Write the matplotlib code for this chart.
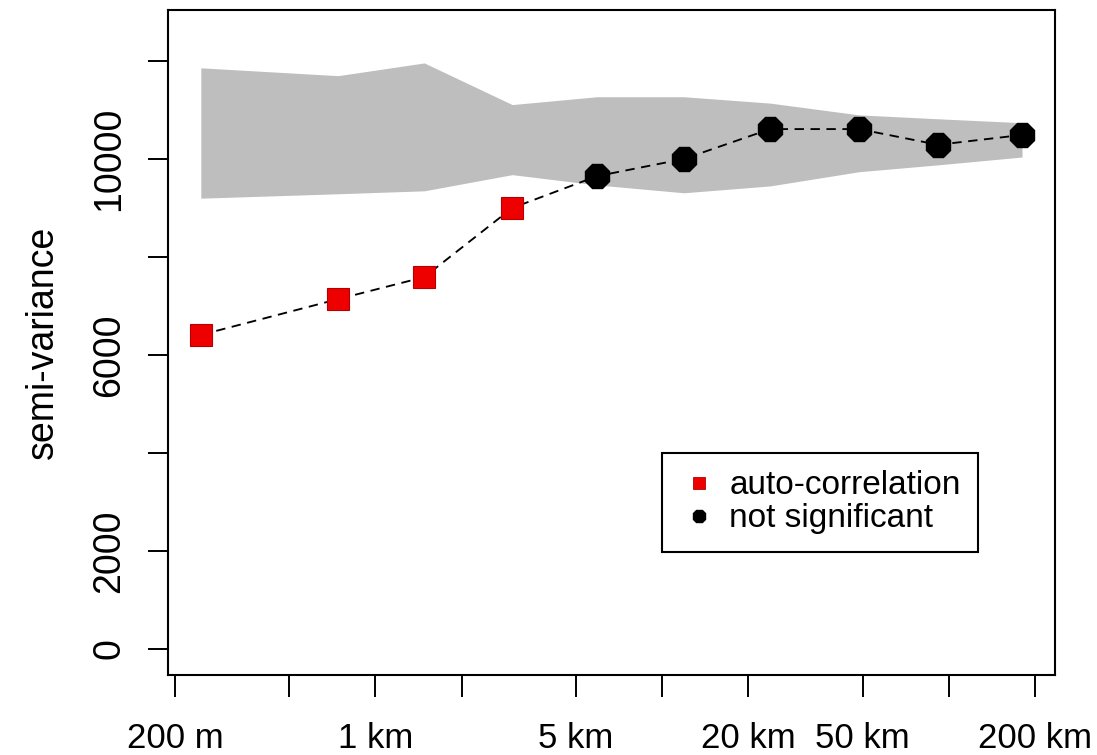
import matplotlib
matplotlib.use("Agg")
import matplotlib.pyplot as plt
from matplotlib.lines import Line2D
from matplotlib import font_manager

# ---------------- data ----------------
lag_km = [0.246, 0.741, 1.48, 3.0, 5.93, 11.9, 23.8, 48.6, 91.7, 180.0]
semivariance = [6410, 7140, 7590, 9000, 9650, 10000, 10610, 10610, 10290, 10490]
envelope_upper = [11860, 11700, 11960, 11110, 11270, 11270, 11140, 10900, 10820, 10740]
envelope_lower = [9200, 9290, 9350, 9680, 9470, 9310, 9450, 9740, 9880, 10040]
n_autocorr = 4  # first lags flagged as auto-correlation

x_ticks = [0.2, 0.5, 1, 2, 5, 10, 20, 50, 100, 200]
x_ticklabels = ["200 m", "", "1 km", "", "5 km", "", "20 km", "50 km", "", "200 km"]
y_ticks = [0, 2000, 4000, 6000, 8000, 10000, 12000]
y_ticklabels = ["0", "2000", "", "6000", "", "10000", ""]
legend_labels = ["auto-correlation", "not significant"]

# ---------------- fonts ----------------
available = {f.name for f in font_manager.fontManager.ttflist}
base_font = "Liberation Sans" if "Liberation Sans" in available else "DejaVu Sans"
if "Liberation Sans Narrow" in available:
    xtick_font, xtick_size = "Liberation Sans Narrow", 28.5
else:
    xtick_font, xtick_size = base_font, 25
plt.rcParams["font.family"] = [base_font, "DejaVu Sans"]

W, H = 1097, 755
fig = plt.figure(figsize=(W / 100, H / 100), dpi=100)
fig.patch.set_facecolor("white")
L, R, T, B = 168, 1055, 10, 675
ax = fig.add_axes([L / W, 1 - B / H, (R - L) / W, (B - T) / H])

# envelope
ax.fill_between(lag_km, envelope_lower, envelope_upper, color="#bebebe",
                linewidth=0, zorder=1)
# dashed connecting line
ax.plot(lag_km, semivariance, color="black", linewidth=1.35,
        linestyle=(0, (5, 3.5)), zorder=2)
# points
ax.plot(lag_km[:n_autocorr], semivariance[:n_autocorr], linestyle="none",
        marker="s", markersize=15.5, markerfacecolor="#ee0000",
        markeredgecolor="#b40000", markeredgewidth=0.8, zorder=3)
ax.plot(lag_km[n_autocorr:], semivariance[n_autocorr:], linestyle="none",
        marker="8", markersize=18, markerfacecolor="black",
        markeredgecolor="black", zorder=3)

ax.set_xscale("log")
ax.set_xlim(0.189, 234.6)
ax.set_ylim(-530, 13040)

ax.set_xticks(x_ticks)
ax.set_xticklabels(x_ticklabels, fontsize=xtick_size, family=[xtick_font, "DejaVu Sans"])
ax.xaxis.set_minor_locator(matplotlib.ticker.NullLocator())
ax.set_yticks(y_ticks)
ax.set_yticklabels(y_ticklabels, rotation=90, va="center", fontsize=27)

ax.tick_params(axis="x", length=15.5, width=1.4, pad=18, direction="out",
               colors="black")
ax.tick_params(axis="y", length=14.5, width=1.4, pad=15, direction="out",
               colors="black")
for sp in ax.spines.values():
    sp.set_linewidth(1.5)
    sp.set_color("black")

ax.set_ylabel("semi-variance", fontsize=27, labelpad=22)

handles = [
    Line2D([], [], linestyle="none", marker="s", markersize=8.5,
           markerfacecolor="#ee0000", markeredgecolor="#b40000", markeredgewidth=0.6),
    Line2D([], [], linestyle="none", marker="8", markersize=10,
           markerfacecolor="black", markeredgecolor="black"),
]
leg = ax.legend(handles, legend_labels, loc="upper left",
                bbox_to_anchor=(662 / W, 1 - 453 / H),
                bbox_transform=fig.transFigure, borderaxespad=0,
                fontsize=24, frameon=True, fancybox=False, framealpha=1,
                edgecolor="black", borderpad=0.52, handlelength=1.2,
                handletextpad=0.3, labelspacing=0.06)
leg.get_frame().set_linewidth(1.5)

fig.savefig("out.png", dpi=100, facecolor="white")
